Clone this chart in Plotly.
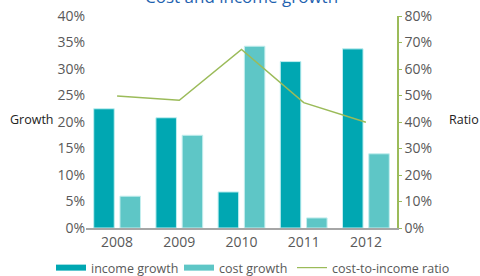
import plotly.graph_objects as go

years = ["2008", "2009", "2010", "2011", "2012"]
income_growth = [22.5, 20.8, 6.8, 31.4, 33.8]
cost_growth = [6.0, 17.5, 34.3, 1.9, 14.0]
cost_to_income = [49.8, 48.2, 67.4, 47.3, 39.9]
series_names = ["income growth", "cost growth", "cost-to-income ratio"]

FONT = "Open Sans"
GRAY = "#595959"
GREEN = "#9bbb59"
C_INC = "#00a7b2"
C_COST = "#5ec6c6"

fig = go.Figure()
fig.add_trace(go.Bar(x=years, y=income_growth, name=series_names[0], showlegend=False,
                     marker=dict(color=C_INC, line=dict(color="#bfeef0", width=1))))
fig.add_trace(go.Bar(x=years, y=cost_growth, name=series_names[1], showlegend=False,
                     marker=dict(color=C_COST, line=dict(color="#c4eeee", width=1))))
fig.add_trace(go.Scatter(x=years, y=cost_to_income, name=series_names[2], showlegend=False,
                         mode="lines", line=dict(color=GREEN, width=1.5), yaxis="y2"))

# legend-only entries (wide flat swatches like the reference)
fig.add_trace(go.Scatter(x=[None], y=[None], mode="lines", name=series_names[0],
                         line=dict(color=C_INC, width=6), legend="legend"))
fig.add_trace(go.Scatter(x=[None], y=[None], mode="lines", name=series_names[1],
                         line=dict(color=C_COST, width=6), legend="legend2"))
fig.add_trace(go.Scatter(x=[None], y=[None], mode="lines", name=series_names[2],
                         line=dict(color=GREEN, width=1.2), legend="legend3"))

def leg(xpix):
    return dict(orientation="h", xref="container", yref="container",
                x=xpix / 480, xanchor="left", y=1 - 268 / 276, yanchor="middle",
                font=dict(size=12.5, color=GRAY, family=FONT), itemwidth=30,
                bgcolor="rgba(0,0,0,0)", borderwidth=0)

fig.update_layout(
    width=480, height=276,
    margin=dict(l=86, r=83, t=16, b=48, autoexpand=False),
    paper_bgcolor="white", plot_bgcolor="white",
    font=dict(family=FONT, size=14, color=GRAY),
    barmode="group", bargap=0.156, bargroupgap=0.218,
    showlegend=True,
    legend=leg(51), legend2=leg(179), legend3=leg(292),
    xaxis=dict(showline=True, linecolor="#a6a6a6", linewidth=1.5, ticks="",
               showgrid=False, tickfont=dict(size=14, color=GRAY), automargin=False),
    yaxis=dict(range=[0, 40], dtick=5, ticksuffix="%", showgrid=False, automargin=False,
               zeroline=False, showline=False, ticks="", tickfont=dict(size=14, color=GRAY)),
    yaxis2=dict(range=[0, 80], dtick=10, ticksuffix="%", overlaying="y", side="right",
                showgrid=False, zeroline=False, showline=True, linecolor=GREEN,
                linewidth=1.5, ticks="outside", ticklen=3, tickcolor=GREEN, automargin=False,
                tickfont=dict(size=14, color=GRAY)),
    annotations=[
        dict(text="Cost and income growth", xref="paper", yref="paper", x=0.5, y=1.09,
             xanchor="center", yanchor="middle", showarrow=False,
             font=dict(size=17, color="#1f63b0", family=FONT)),
        dict(text="Growth", xref="paper", yref="paper", x=(8 - 86) / 311, y=0.51,
             xanchor="left", yanchor="middle", showarrow=False,
             font=dict(size=12.5, color="#222222", family=FONT)),
        dict(text="Ratio", xref="paper", yref="paper", x=(447 - 86) / 311, y=0.51,
             xanchor="left", yanchor="middle", showarrow=False,
             font=dict(size=12.5, color="#222222", family=FONT)),
    ],
)

fig.write_html("out.html", config={"displayModeBar": False},
               post_script="document.body.style.margin='0px';document.body.style.overflow='hidden';")
